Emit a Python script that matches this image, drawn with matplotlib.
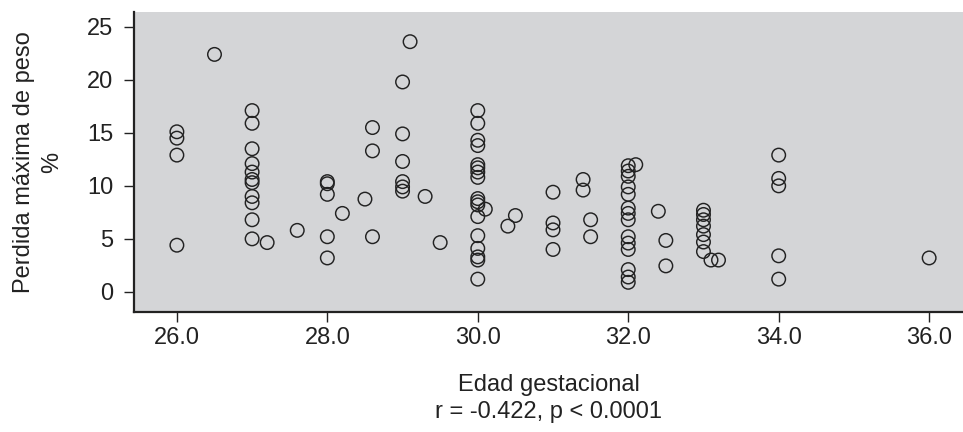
import matplotlib
matplotlib.use("Agg")
import matplotlib.pyplot as plt

# Edad gestacional (semanas) y pérdida máxima de peso (%)
edad = (
    [26.0] * 4 + [26.5]
    + [27.0] * 11 + [27.2, 27.6]
    + [28.0] * 5 + [28.2, 28.5] + [28.6] * 3
    + [29.0] * 6 + [29.1, 29.3, 29.5]
    + [30.0] * 17 + [30.1, 30.4, 30.5]
    + [31.0] * 4 + [31.4] * 2 + [31.5] * 2
    + [32.0] * 14 + [32.1, 32.4, 32.5, 32.5]
    + [33.0] * 7 + [33.1, 33.2]
    + [34.0] * 5 + [36.0]
)
perdida = (
    [15.1, 14.5, 12.9, 4.4] + [22.4]
    + [17.1, 15.9, 13.5, 12.1, 11.3, 10.6, 10.3, 9.0, 8.4, 6.8, 5.0] + [4.65, 5.8]
    + [10.4, 10.2, 9.2, 5.2, 3.2] + [7.4, 8.75] + [15.5, 13.3, 5.2]
    + [19.8, 14.9, 12.3, 10.4, 9.9, 9.5] + [23.6, 9.0, 4.65]
    + [17.1, 15.9, 14.3, 13.8, 12.0, 11.7, 11.3, 10.8, 8.8, 8.5, 8.2, 7.1,
       5.3, 4.1, 3.3, 3.0, 1.2] + [7.8, 6.2, 7.2]
    + [9.4, 6.5, 5.85, 4.0] + [10.6, 9.6] + [6.8, 5.2]
    + [11.9, 11.4, 10.9, 9.9, 9.2, 7.9, 7.4, 6.8, 5.2, 4.6, 4.0, 2.1, 1.4, 0.9]
    + [12.0, 7.6, 4.85, 2.45]
    + [7.7, 7.3, 6.8, 6.2, 5.4, 4.7, 3.8] + [3.0, 3.0]
    + [12.9, 10.7, 10.0, 3.4, 1.2] + [3.2]
)

xticks = [26, 28, 30, 32, 34, 36]
yticks = [0, 5, 10, 15, 20, 25]

plt.rcParams["font.family"] = ["Liberation Sans", "DejaVu Sans"]

fig = plt.figure(figsize=(9.63, 4.32), dpi=100)
ax = fig.add_axes([134 / 963, 120 / 432, 829 / 963, 300 / 432])
ax.set_facecolor("#d4d5d7")

ax.scatter(edad, perdida, s=95, facecolors="none", edgecolors="#222222",
           linewidths=1.05, zorder=3)

ax.set_xlim(25.43, 36.45)
ax.set_ylim(-1.9, 26.4)
ax.set_xticks(xticks)
ax.set_xticklabels([f"{v:.1f}" for v in xticks])
ax.set_yticks(yticks)

for side in ["top", "right"]:
    ax.spines[side].set_visible(False)
for side in ["left", "bottom"]:
    ax.spines[side].set_linewidth(1.6)
    ax.spines[side].set_color("#222222")

ax.tick_params(axis="both", length=7, width=1.0, color="#222222",
               labelsize=17, labelcolor="#222222")
ax.tick_params(axis="x", pad=4)
ax.tick_params(axis="y", pad=8)

ax.set_xlabel("Edad gestacional\nr = -0.422, p < 0.0001", fontsize=17,
              color="#222222", labelpad=18, linespacing=1.3)
ax.set_ylabel("Perdida máxima de peso\n%", fontsize=17, color="#222222",
              labelpad=17, linespacing=1.35)

fig.savefig("out.png", dpi=100, facecolor="white")
